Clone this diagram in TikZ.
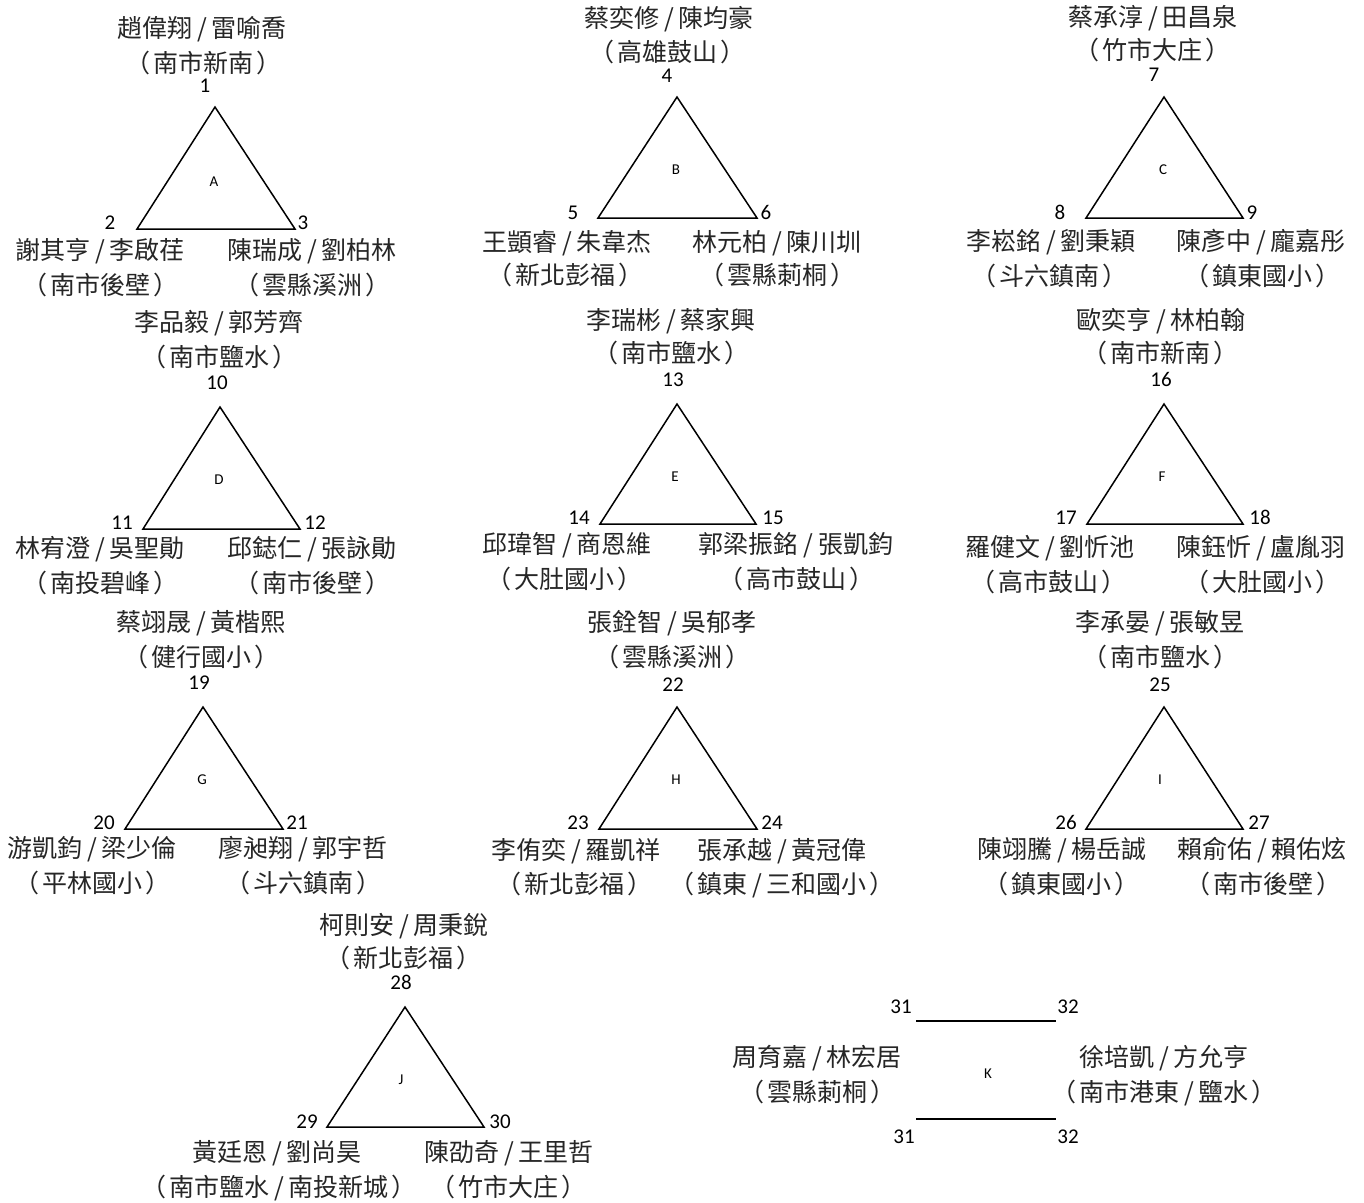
\documentclass[tikz,border=0pt]{standalone}
\usepackage{fontspec}
\setmainfont{Carlito}
\newfontfamily\cjk{Noto Sans CJK TC}
\newcommand\mySl{\kern5pt/\kern5pt\relax}
\newcommand\myLp{\char"FF08\relax\kern3pt\relax}
\newcommand\myRp{\kern3pt\relax\char"FF09\relax}
\tikzset{
  nm/.style={font=\cjk\fontsize{25}{25}\selectfont, inner sep=0pt, text height=20.7pt, text depth=1.8pt, text=black!85},
  num/.style={font=\fontsize{21}{21}\selectfont, inner sep=0pt, text height=13.3pt, text depth=0pt},
  grp/.style={font=\fontsize{15}{15}\selectfont, inner sep=0pt, text height=9.7pt, text depth=0pt},
  triline/.style={draw=black, line width=1.5pt, line join=miter},
  kline/.style={draw=black, line width=1.5pt}
}
\begin{document}
\begin{tikzpicture}[x=1pt,y=-1pt]
\useasboundingbox[fill=white] (0,0) rectangle (1364,1202);

% ---------- A ----------
\coordinate (A1) at (215,107); \coordinate (A2) at (137,229); \coordinate (A3) at (295,229);
\draw[triline] (A1) -- (A2) -- (A3) -- cycle;
\node[nm] (At1) at (202,28) {趙偉翔\mySl 雷喻喬};
\node[nm] (At2) at (203,63) {\myLp 南市新南\myRp};
\node[num] (N1) at (205,86) {1};
\node[grp] (LA) at (214,182) {A};
\node[num] (N2) at (110,223) {2};
\node[num] (N3) at (303,223) {3};
\node[nm] (Al1) at (100,250) {謝其亨\mySl 李啟荏};
\node[nm] (Al2) at (100,285) {\myLp 南市後壁\myRp};
\node[nm] (Ar1) at (312,250) {陳瑞成\mySl 劉柏林};
\node[nm] (Ar2) at (312,285) {\myLp 雲縣溪洲\myRp};

% ---------- B ----------
\coordinate (B1) at (677,97); \coordinate (B2) at (598,218); \coordinate (B3) at (757,218);
\draw[triline] (B1) -- (B2) -- (B3) -- cycle;
\node[nm] (Bt1) at (669,18) {蔡奕修\mySl 陳均豪};
\node[nm] (Bt2) at (667,52) {\myLp 高雄鼓山\myRp};
\node[num] (N4) at (667,76) {4};
\node[grp] (LB) at (676,170) {B};
\node[num] (N5) at (573,213) {5};
\node[num] (N6) at (766,213) {6};
\node[nm] (Bl1) at (567,242) {王顗睿\mySl 朱韋杰};
\node[nm] (Bl2) at (565,275) {\myLp 新北彭福\myRp};
\node[nm] (Br1) at (777,242) {林元柏\mySl 陳川圳};
\node[nm] (Br2) at (777,275) {\myLp 雲縣莿桐\myRp};

% ---------- C ----------
\coordinate (C1) at (1164,97); \coordinate (C2) at (1086,218); \coordinate (C3) at (1243,218);
\draw[triline] (C1) -- (C2) -- (C3) -- cycle;
\node[nm] (Ct1) at (1153,17) {蔡承淳\mySl 田昌泉};
\node[nm] (Ct2) at (1152,50) {\myLp 竹市大庄\myRp};
\node[num] (N7) at (1154,75) {7};
\node[grp] (LC) at (1163,170) {C};
\node[num] (N8) at (1060,213) {8};
\node[num] (N9) at (1252,213) {9};
\node[nm] (Cl1) at (1051,241) {李崧銘\mySl 劉秉穎};
\node[nm] (Cl2) at (1049,276) {\myLp 斗六鎮南\myRp};
\node[nm] (Cr1) at (1261,241) {陳彥中\mySl 龐嘉彤};
\node[nm] (Cr2) at (1262,276) {\myLp 鎮東國小\myRp};

% ---------- D ----------
\coordinate (D1) at (220,407); \coordinate (D2) at (143,529); \coordinate (D3) at (300,529);
\draw[triline] (D1) -- (D2) -- (D3) -- cycle;
\node[nm] (Dt1) at (219,322) {李品毅\mySl 郭芳齊};
\node[nm] (Dt2) at (219,357) {\myLp 南市鹽水\myRp};
\node[num] (N10) at (217,383) {10};
\node[grp] (LD) at (219,480) {D};
\node[num] (N11) at (122,523) {11};
\node[num] (N12) at (315,523) {12};
\node[nm] (Dl1) at (100,548) {林宥澄\mySl 吳聖勛};
\node[nm] (Dl2) at (100,583) {\myLp 南投碧峰\myRp};
\node[nm] (Dr1) at (312,548) {邱鋕仁\mySl 張詠勛};
\node[nm] (Dr2) at (312,583) {\myLp 南市後壁\myRp};

% ---------- E ----------
\coordinate (E1) at (677,404); \coordinate (E2) at (600,524); \coordinate (E3) at (756,524);
\draw[triline] (E1) -- (E2) -- (E3) -- cycle;
\node[nm] (Et1) at (671,320) {李瑞彬\mySl 蔡家興};
\node[nm] (Et2) at (671,353) {\myLp 南市鹽水\myRp};
\node[num] (N13) at (673,380) {13};
\node[grp] (LE) at (675,477) {E};
\node[num] (N14) at (579,518) {14};
\node[num] (N15) at (773,518) {15};
\node[nm] (El1) at (567,544) {邱瑋智\mySl 商恩維};
\node[nm] (El2) at (564,579) {\myLp 大肚國小\myRp};
\node[nm] (Er1) at (796,544) {郭梁振銘\mySl 張凱鈞};
\node[nm] (Er2) at (796,579) {\myLp 高市鼓山\myRp};

% ---------- F ----------
\coordinate (F1) at (1164,404); \coordinate (F2) at (1087,524); \coordinate (F3) at (1243,524);
\draw[triline] (F1) -- (F2) -- (F3) -- cycle;
\node[nm] (Ft1) at (1161,320) {歐奕亨\mySl 林柏翰};
\node[nm] (Ft2) at (1160,353) {\myLp 南市新南\myRp};
\node[num] (N16) at (1161,380) {16};
\node[grp] (LF) at (1162,477) {F};
\node[num] (N17) at (1066,518) {17};
\node[num] (N18) at (1260,518) {18};
\node[nm] (Fl1) at (1050,547) {羅健文\mySl 劉忻池};
\node[nm] (Fl2) at (1048,582) {\myLp 高市鼓山\myRp};
\node[nm] (Fr1) at (1261,547) {陳鈺忻\mySl 盧胤羽};
\node[nm] (Fr2) at (1262,582) {\myLp 大肚國小\myRp};

% ---------- G ----------
\coordinate (G1) at (203,707); \coordinate (G2) at (125,829); \coordinate (G3) at (283,829);
\draw[triline] (G1) -- (G2) -- (G3) -- cycle;
\node[nm] (Gt1) at (201,622) {蔡翊晟\mySl 黃楷熙};
\node[nm] (Gt2) at (201,657) {\myLp 健行國小\myRp};
\node[num] (N19) at (199,683) {19};
\node[grp] (LG) at (202,780) {G};
\node[num] (N20) at (104,823) {20};
\node[num] (N21) at (297,823) {21};
\node[nm] (Gl1) at (92,848) {游凱鈞\mySl 梁少倫};
\node[nm] (Gl2) at (92,883) {\myLp 平林國小\myRp};
\node[nm] (Gr1) at (303,848) {廖昶翔\mySl 郭宇哲};
\node[nm] (Gr2) at (303,883) {\myLp 斗六鎮南\myRp};

% ---------- H ----------
\coordinate (H1) at (677,707); \coordinate (H2) at (599,829); \coordinate (H3) at (757,829);
\draw[triline] (H1) -- (H2) -- (H3) -- cycle;
\node[nm] (Ht1) at (672,622) {張銓智\mySl 吳郁孝};
\node[nm] (Ht2) at (672,657) {\myLp 雲縣溪洲\myRp};
\node[num] (N22) at (673,685) {22};
\node[grp] (LH) at (676,780) {H};
\node[num] (N23) at (578,823) {23};
\node[num] (N24) at (772,823) {24};
\node[nm] (Hl1) at (576,850) {李侑奕\mySl 羅凱祥};
\node[nm] (Hl2) at (574,884) {\myLp 新北彭福\myRp};
\node[nm] (Hr1) at (782,850) {張承越\mySl 黃冠偉};
\node[nm] (Hr2) at (782,884) {\myLp 鎮東\mySl 三和國小\myRp};

% ---------- I ----------
\coordinate (I1) at (1164,707); \coordinate (I2) at (1086,829); \coordinate (I3) at (1243,829);
\draw[triline] (I1) -- (I2) -- (I3) -- cycle;
\node[nm] (It1) at (1160,622) {李承晏\mySl 張敏昱};
\node[nm] (It2) at (1160,657) {\myLp 南市鹽水\myRp};
\node[num] (N25) at (1160,685) {25};
\node[grp] (LI) at (1160,780) {I};
\node[num] (N26) at (1066,823) {26};
\node[num] (N27) at (1259,823) {27};
\node[nm] (Il1) at (1062,849) {陳翊騰\mySl 楊岳誠};
\node[nm] (Il2) at (1061,884) {\myLp 鎮東國小\myRp};
\node[nm] (Ir1) at (1262,849) {賴俞佑\mySl 賴佑炫};
\node[nm] (Ir2) at (1263,884) {\myLp 南市後壁\myRp};

% ---------- J ----------
\coordinate (J1) at (405,1007); \coordinate (J2) at (327,1127); \coordinate (J3) at (484,1127);
\draw[triline] (J1) -- (J2) -- (J3) -- cycle;
\node[nm] (Jt1) at (404,925) {柯則安\mySl 周秉銳};
\node[nm] (Jt2) at (403,958) {\myLp 新北彭福\myRp};
\node[num] (N28) at (401,983) {28};
\node[grp] (LJ) at (401,1080) {J};
\node[num] (N29) at (307,1122) {29};
\node[num] (N30) at (500,1122) {30};
\node[nm] (Jl1) at (277,1152) {黃廷恩\mySl 劉尚昊};
\node[nm] (Jl2) at (279,1187) {\myLp 南市鹽水\mySl 南投新城\myRp};
\node[nm] (Jr1) at (509,1152) {陳劭奇\mySl 王里哲};
\node[nm] (Jr2) at (508,1187) {\myLp 竹市大庄\myRp};

% ---------- K ----------
\coordinate (K1) at (916,1021); \coordinate (K2) at (1056,1021);
\coordinate (K3) at (916,1119); \coordinate (K4) at (1056,1119);
\draw[kline] (K1) -- (K2);
\draw[kline] (K3) -- (K4);
\node[num] (N31a) at (901,1007) {31};
\node[num] (N32a) at (1068,1007) {32};
\node[num] (N31b) at (904,1137) {31};
\node[num] (N32b) at (1068,1137) {32};
\node[grp] (LK) at (988,1074) {K};
\node[nm] (Kl1) at (817,1057) {周育嘉\mySl 林宏居};
\node[nm] (Kl2) at (817,1092) {\myLp 雲縣莿桐\myRp};
\node[nm] (Kr1) at (1164,1057) {徐培凱\mySl 方允亨};
\node[nm] (Kr2) at (1164,1092) {\myLp 南市港東\mySl 鹽水\myRp};
\end{tikzpicture}
\end{document}
